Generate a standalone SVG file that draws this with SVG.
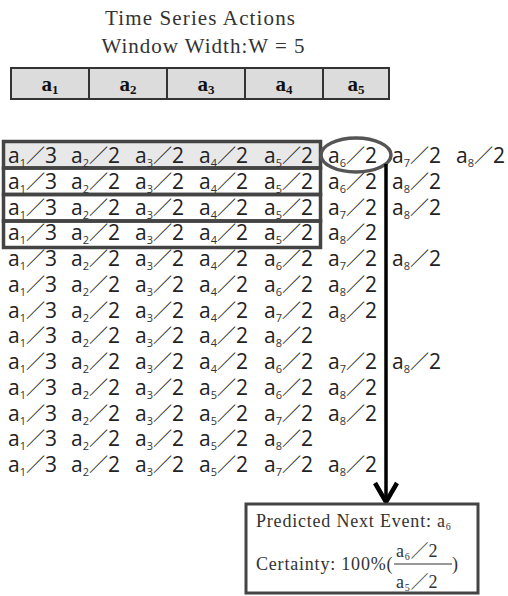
<svg xmlns="http://www.w3.org/2000/svg" width="508" height="596" viewBox="0 0 508 596">
<style>
.title{font-family:"Liberation Serif","Times New Roman",serif;font-size:21px;fill:#333}
.cell{fill:#dcdcdc;stroke:#333;stroke-width:2}
.cl{font-family:"Liberation Serif","Times New Roman",serif;font-size:21px;font-weight:bold;fill:#111;text-anchor:middle}
.cs{font-size:13px}
.row{font-family:"Open Sans","DejaVu Sans",sans-serif;font-size:21px;fill:#222}
.s{font-size:11px;fill:#333}
.k{font-family:"Noto Sans CJK SC","Noto Sans",sans-serif;font-size:19px}
.box{fill:none;stroke:#444;stroke-width:3.5}
.pb{font-family:"Liberation Serif","Times New Roman",serif;font-size:18px;fill:#333;letter-spacing:0.8px}
.ps{font-size:10px}
.pk{font-family:"Noto Sans CJK SC","Noto Sans",sans-serif;font-size:18px;letter-spacing:0}
</style>
<g id="title">
<text class="title" x="200" y="25" text-anchor="middle" textLength="190" lengthAdjust="spacing">Time Series Actions</text>
<text class="title" x="203" y="53" text-anchor="middle" textLength="203" lengthAdjust="spacing">Window Width:W = 5</text>
</g>
<g id="window">
<rect class="cell" x="11" y="68" width="78" height="31"/>
<rect class="cell" x="89" y="68" width="78" height="31"/>
<rect class="cell" x="167" y="68" width="78" height="31"/>
<rect class="cell" x="245" y="68" width="78" height="31"/>
<rect class="cell" x="323" y="68" width="66" height="31"/>
<text class="cl" x="50" y="91">a<tspan class="cs" dy="3">1</tspan></text>
<text class="cl" x="128" y="91">a<tspan class="cs" dy="3">2</tspan></text>
<text class="cl" x="206" y="91">a<tspan class="cs" dy="3">3</tspan></text>
<text class="cl" x="284" y="91">a<tspan class="cs" dy="3">4</tspan></text>
<text class="cl" x="356" y="91">a<tspan class="cs" dy="3">5</tspan></text>
</g>
<g id="windows">
<rect x="3.5" y="141.5" width="317" height="26.5" fill="#e8e8e8" stroke="#444" stroke-width="3.5"/>
<rect class="box" x="3.5" y="168" width="317" height="26.5" fill="#fff"/>
<rect class="box" x="3.5" y="194.5" width="317" height="26.5"/>
<rect class="box" x="3.5" y="221" width="317" height="26.5"/>
</g>
<g id="sequences" class="row">
<text id="row1" y="163"><tspan x="8">a</tspan><tspan class="s" dy="4">1</tspan><tspan class="k" dy="-4">／</tspan>3<tspan x="71">a</tspan><tspan class="s" dy="4">2</tspan><tspan class="k" dy="-4">／</tspan>2<tspan x="135">a</tspan><tspan class="s" dy="4">3</tspan><tspan class="k" dy="-4">／</tspan>2<tspan x="199">a</tspan><tspan class="s" dy="4">4</tspan><tspan class="k" dy="-4">／</tspan>2<tspan x="264">a</tspan><tspan class="s" dy="4">5</tspan><tspan class="k" dy="-4">／</tspan>2<tspan x="328">a</tspan><tspan class="s" dy="4">6</tspan><tspan class="k" dy="-4">／</tspan>2<tspan x="392">a</tspan><tspan class="s" dy="4">7</tspan><tspan class="k" dy="-4">／</tspan>2<tspan x="456">a</tspan><tspan class="s" dy="4">8</tspan><tspan class="k" dy="-4">／</tspan>2</text>
<text id="row2" y="188.75"><tspan x="8">a</tspan><tspan class="s" dy="4">1</tspan><tspan class="k" dy="-4">／</tspan>3<tspan x="71">a</tspan><tspan class="s" dy="4">2</tspan><tspan class="k" dy="-4">／</tspan>2<tspan x="135">a</tspan><tspan class="s" dy="4">3</tspan><tspan class="k" dy="-4">／</tspan>2<tspan x="199">a</tspan><tspan class="s" dy="4">4</tspan><tspan class="k" dy="-4">／</tspan>2<tspan x="264">a</tspan><tspan class="s" dy="4">5</tspan><tspan class="k" dy="-4">／</tspan>2<tspan x="328">a</tspan><tspan class="s" dy="4">6</tspan><tspan class="k" dy="-4">／</tspan>2<tspan x="392">a</tspan><tspan class="s" dy="4">8</tspan><tspan class="k" dy="-4">／</tspan>2</text>
<text id="row3" y="214.5"><tspan x="8">a</tspan><tspan class="s" dy="4">1</tspan><tspan class="k" dy="-4">／</tspan>3<tspan x="71">a</tspan><tspan class="s" dy="4">2</tspan><tspan class="k" dy="-4">／</tspan>2<tspan x="135">a</tspan><tspan class="s" dy="4">3</tspan><tspan class="k" dy="-4">／</tspan>2<tspan x="199">a</tspan><tspan class="s" dy="4">4</tspan><tspan class="k" dy="-4">／</tspan>2<tspan x="264">a</tspan><tspan class="s" dy="4">5</tspan><tspan class="k" dy="-4">／</tspan>2<tspan x="328">a</tspan><tspan class="s" dy="4">7</tspan><tspan class="k" dy="-4">／</tspan>2<tspan x="392">a</tspan><tspan class="s" dy="4">8</tspan><tspan class="k" dy="-4">／</tspan>2</text>
<text id="row4" y="240.25"><tspan x="8">a</tspan><tspan class="s" dy="4">1</tspan><tspan class="k" dy="-4">／</tspan>3<tspan x="71">a</tspan><tspan class="s" dy="4">2</tspan><tspan class="k" dy="-4">／</tspan>2<tspan x="135">a</tspan><tspan class="s" dy="4">3</tspan><tspan class="k" dy="-4">／</tspan>2<tspan x="199">a</tspan><tspan class="s" dy="4">4</tspan><tspan class="k" dy="-4">／</tspan>2<tspan x="264">a</tspan><tspan class="s" dy="4">5</tspan><tspan class="k" dy="-4">／</tspan>2<tspan x="328">a</tspan><tspan class="s" dy="4">8</tspan><tspan class="k" dy="-4">／</tspan>2</text>
<text id="row5" y="266"><tspan x="8">a</tspan><tspan class="s" dy="4">1</tspan><tspan class="k" dy="-4">／</tspan>3<tspan x="71">a</tspan><tspan class="s" dy="4">2</tspan><tspan class="k" dy="-4">／</tspan>2<tspan x="135">a</tspan><tspan class="s" dy="4">3</tspan><tspan class="k" dy="-4">／</tspan>2<tspan x="199">a</tspan><tspan class="s" dy="4">4</tspan><tspan class="k" dy="-4">／</tspan>2<tspan x="264">a</tspan><tspan class="s" dy="4">6</tspan><tspan class="k" dy="-4">／</tspan>2<tspan x="328">a</tspan><tspan class="s" dy="4">7</tspan><tspan class="k" dy="-4">／</tspan>2<tspan x="392">a</tspan><tspan class="s" dy="4">8</tspan><tspan class="k" dy="-4">／</tspan>2</text>
<text id="row6" y="291.75"><tspan x="8">a</tspan><tspan class="s" dy="4">1</tspan><tspan class="k" dy="-4">／</tspan>3<tspan x="71">a</tspan><tspan class="s" dy="4">2</tspan><tspan class="k" dy="-4">／</tspan>2<tspan x="135">a</tspan><tspan class="s" dy="4">3</tspan><tspan class="k" dy="-4">／</tspan>2<tspan x="199">a</tspan><tspan class="s" dy="4">4</tspan><tspan class="k" dy="-4">／</tspan>2<tspan x="264">a</tspan><tspan class="s" dy="4">6</tspan><tspan class="k" dy="-4">／</tspan>2<tspan x="328">a</tspan><tspan class="s" dy="4">8</tspan><tspan class="k" dy="-4">／</tspan>2</text>
<text id="row7" y="317.5"><tspan x="8">a</tspan><tspan class="s" dy="4">1</tspan><tspan class="k" dy="-4">／</tspan>3<tspan x="71">a</tspan><tspan class="s" dy="4">2</tspan><tspan class="k" dy="-4">／</tspan>2<tspan x="135">a</tspan><tspan class="s" dy="4">3</tspan><tspan class="k" dy="-4">／</tspan>2<tspan x="199">a</tspan><tspan class="s" dy="4">4</tspan><tspan class="k" dy="-4">／</tspan>2<tspan x="264">a</tspan><tspan class="s" dy="4">7</tspan><tspan class="k" dy="-4">／</tspan>2<tspan x="328">a</tspan><tspan class="s" dy="4">8</tspan><tspan class="k" dy="-4">／</tspan>2</text>
<text id="row8" y="343.25"><tspan x="8">a</tspan><tspan class="s" dy="4">1</tspan><tspan class="k" dy="-4">／</tspan>3<tspan x="71">a</tspan><tspan class="s" dy="4">2</tspan><tspan class="k" dy="-4">／</tspan>2<tspan x="135">a</tspan><tspan class="s" dy="4">3</tspan><tspan class="k" dy="-4">／</tspan>2<tspan x="199">a</tspan><tspan class="s" dy="4">4</tspan><tspan class="k" dy="-4">／</tspan>2<tspan x="264">a</tspan><tspan class="s" dy="4">8</tspan><tspan class="k" dy="-4">／</tspan>2</text>
<text id="row9" y="369"><tspan x="8">a</tspan><tspan class="s" dy="4">1</tspan><tspan class="k" dy="-4">／</tspan>3<tspan x="71">a</tspan><tspan class="s" dy="4">2</tspan><tspan class="k" dy="-4">／</tspan>2<tspan x="135">a</tspan><tspan class="s" dy="4">3</tspan><tspan class="k" dy="-4">／</tspan>2<tspan x="199">a</tspan><tspan class="s" dy="4">4</tspan><tspan class="k" dy="-4">／</tspan>2<tspan x="264">a</tspan><tspan class="s" dy="4">6</tspan><tspan class="k" dy="-4">／</tspan>2<tspan x="328">a</tspan><tspan class="s" dy="4">7</tspan><tspan class="k" dy="-4">／</tspan>2<tspan x="392">a</tspan><tspan class="s" dy="4">8</tspan><tspan class="k" dy="-4">／</tspan>2</text>
<text id="row10" y="394.75"><tspan x="8">a</tspan><tspan class="s" dy="4">1</tspan><tspan class="k" dy="-4">／</tspan>3<tspan x="71">a</tspan><tspan class="s" dy="4">2</tspan><tspan class="k" dy="-4">／</tspan>2<tspan x="135">a</tspan><tspan class="s" dy="4">3</tspan><tspan class="k" dy="-4">／</tspan>2<tspan x="199">a</tspan><tspan class="s" dy="4">5</tspan><tspan class="k" dy="-4">／</tspan>2<tspan x="264">a</tspan><tspan class="s" dy="4">6</tspan><tspan class="k" dy="-4">／</tspan>2<tspan x="328">a</tspan><tspan class="s" dy="4">8</tspan><tspan class="k" dy="-4">／</tspan>2</text>
<text id="row11" y="420.5"><tspan x="8">a</tspan><tspan class="s" dy="4">1</tspan><tspan class="k" dy="-4">／</tspan>3<tspan x="71">a</tspan><tspan class="s" dy="4">2</tspan><tspan class="k" dy="-4">／</tspan>2<tspan x="135">a</tspan><tspan class="s" dy="4">3</tspan><tspan class="k" dy="-4">／</tspan>2<tspan x="199">a</tspan><tspan class="s" dy="4">5</tspan><tspan class="k" dy="-4">／</tspan>2<tspan x="264">a</tspan><tspan class="s" dy="4">7</tspan><tspan class="k" dy="-4">／</tspan>2<tspan x="328">a</tspan><tspan class="s" dy="4">8</tspan><tspan class="k" dy="-4">／</tspan>2</text>
<text id="row12" y="446.25"><tspan x="8">a</tspan><tspan class="s" dy="4">1</tspan><tspan class="k" dy="-4">／</tspan>3<tspan x="71">a</tspan><tspan class="s" dy="4">2</tspan><tspan class="k" dy="-4">／</tspan>2<tspan x="135">a</tspan><tspan class="s" dy="4">3</tspan><tspan class="k" dy="-4">／</tspan>2<tspan x="199">a</tspan><tspan class="s" dy="4">5</tspan><tspan class="k" dy="-4">／</tspan>2<tspan x="264">a</tspan><tspan class="s" dy="4">8</tspan><tspan class="k" dy="-4">／</tspan>2</text>
<text id="row13" y="472"><tspan x="8">a</tspan><tspan class="s" dy="4">1</tspan><tspan class="k" dy="-4">／</tspan>3<tspan x="71">a</tspan><tspan class="s" dy="4">2</tspan><tspan class="k" dy="-4">／</tspan>2<tspan x="135">a</tspan><tspan class="s" dy="4">3</tspan><tspan class="k" dy="-4">／</tspan>2<tspan x="199">a</tspan><tspan class="s" dy="4">5</tspan><tspan class="k" dy="-4">／</tspan>2<tspan x="264">a</tspan><tspan class="s" dy="4">7</tspan><tspan class="k" dy="-4">／</tspan>2<tspan x="328">a</tspan><tspan class="s" dy="4">8</tspan><tspan class="k" dy="-4">／</tspan>2</text>
</g>
<g id="connectors">
<ellipse cx="356" cy="155" rx="35" ry="17" fill="none" stroke="#555" stroke-width="3.5"/>
<line x1="386" y1="164" x2="386" y2="500" stroke="#000" stroke-width="3.5"/>
<polyline points="375,483 386,502 397,483" fill="none" stroke="#000" stroke-width="4.5"/>
</g>
<g id="prediction">
<rect x="246" y="504" width="232" height="89" fill="#fff" stroke="#444" stroke-width="3"/>
<text class="pb" x="256" y="527">Predicted Next Event: a<tspan class="ps" dy="3">6</tspan></text>
<text class="pb" x="256" y="570">Certainty: 100%(</text>
<text class="pb" x="396" y="557">a<tspan class="ps" dy="3">6</tspan><tspan class="pk" dy="-3">／</tspan>2</text>
<line x1="394" y1="564" x2="452" y2="564" stroke="#333" stroke-width="1.2"/>
<text class="pb" x="396" y="588">a<tspan class="ps" dy="3">5</tspan><tspan class="pk" dy="-3">／</tspan>2</text>
<text class="pb" x="452" y="570">)</text>
</g>
</svg>
